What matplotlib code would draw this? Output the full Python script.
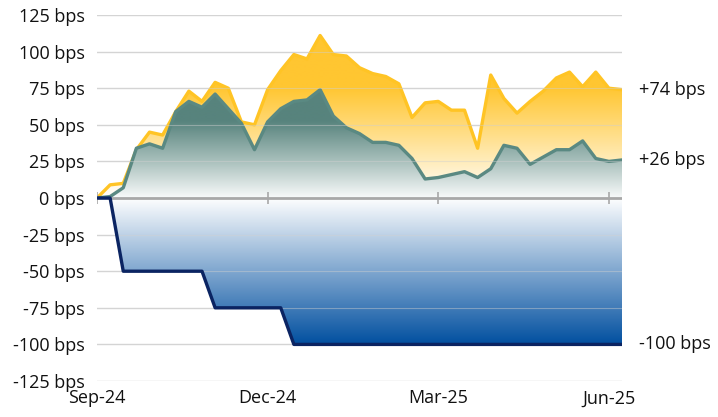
import numpy as np
import matplotlib
matplotlib.use("Agg")
import matplotlib.pyplot as plt
from matplotlib.colors import LinearSegmentedColormap

# weekly observations, Sep-24 .. Jun-25 (bps change)
weeks = np.arange(41)
yellow_vals = [0, 9, 10, 33, 45, 43, 59, 73, 66, 79, 75, 52, 50, 74, 87, 98, 95, 111,
               98, 97, 89, 85, 83, 78, 55, 65, 66, 60, 60, 34, 84, 68, 58, 66, 73, 82,
               86, 76, 86, 75, 74]
green_vals = [0, 1, 7, 34, 37, 34, 59, 66, 62, 71, 61, 51, 33, 52, 61, 66, 67, 74,
              56, 48, 44, 38, 38, 36, 27, 13, 14, 16, 18, 14, 20, 36, 34, 23, 28, 33,
              33, 39, 27, 25, 26]
navy_vals = [0, 0, -50, -50, -50, -50, -50, -50, -50, -75, -75, -75, -75, -75, -75,
             -100, -100, -100, -100, -100, -100, -100, -100, -100, -100, -100, -100,
             -100, -100, -100, -100, -100, -100, -100, -100, -100, -100, -100, -100,
             -100, -100]
tick_pos = [0, 13, 26, 39]
tick_labels = ["Sep-24", "Dec-24", "Mar-25", "Jun-25"]
y_levels = [-125, -100, -75, -50, -25, 0, 25, 50, 75, 100, 125]

plt.rcParams['font.family'] = ['Open Sans', 'DejaVu Sans']

fig = plt.figure(figsize=(7.18, 4.17), dpi=100)
ax = fig.add_axes([0.1351, 0.0863, 0.7312, 0.8777])
ax.set_xlim(0, 40)
ax.set_ylim(-125, 125)


def gradient_fill(y, lo, hi, stops, z):
    poly = ax.fill_between(weeks, y, 0, facecolor='none', edgecolor='none', zorder=z)
    cmap = LinearSegmentedColormap.from_list('g', stops)
    grad = np.linspace(0, 1, 256).reshape(-1, 1)
    img = ax.imshow(grad, extent=[0, 40, lo, hi], origin='lower', aspect='auto',
                    cmap=cmap, zorder=z, interpolation='bilinear')
    img.set_clip_path(poly.get_paths()[0], transform=ax.transData)


# gridlines behind
for lv in y_levels:
    if lv != 0:
        ax.axhline(lv, color='#D9D9D9', lw=1.0, zorder=0)

gradient_fill(yellow_vals, 0, 125,
              [(0, '#FFFFFF'), (0.6, '#FFC631'), (1, '#FFC631')], 1)
ax.plot(weeks, yellow_vals, color='#FFC425', lw=2.4, zorder=2, solid_joinstyle='round')
gradient_fill(green_vals, 0, 125,
              [(0, '#F8FAFA'), (0.2, '#A9C0BC'), (0.42, '#57837D'), (1, '#57837D')], 3)
ax.plot(weeks, green_vals, color='#5A8982', lw=2.4, zorder=4, solid_joinstyle='round')
gradient_fill(navy_vals, -100, 0, [(0, '#0250A0'), (1, '#FFFFFF')], 3)

# faint gridlines over the fills
for lv in y_levels:
    if lv != 0:
        ax.axhline(lv, color='#D0D0D0', lw=0.8, alpha=0.45, zorder=5)

ax.axhline(0, color='#A8A8A8', lw=2.0, zorder=5)
# tick marks on the zero line
ax.vlines(tick_pos, -4, 4, color='#A8A8A8', lw=1.2, zorder=5)
ax.plot(weeks, navy_vals, color='#0B2462', lw=2.4, zorder=6, solid_joinstyle='round')

for s in ax.spines.values():
    s.set_visible(False)

ax.set_yticks(y_levels)
ax.set_yticklabels([f"{v} bps" for v in y_levels])
ax.tick_params(axis='y', length=0, pad=9, labelsize=13, labelcolor='#111111')
ax.set_xticks(tick_pos)
ax.set_xticklabels(tick_labels)
ax.tick_params(axis='x', length=0, pad=6, labelsize=13, labelcolor='#111111')

# end labels
for v, txt in [(yellow_vals[-1], "+74 bps"), (green_vals[-1], "+26 bps"),
               (navy_vals[-1], "-100 bps")]:
    ax.annotate(txt, xy=(40, v), xytext=(12, 0), textcoords='offset points',
                va='center', ha='left', fontsize=13, color='#111111',
                annotation_clip=False)

fig.savefig("out.png", dpi=100)
